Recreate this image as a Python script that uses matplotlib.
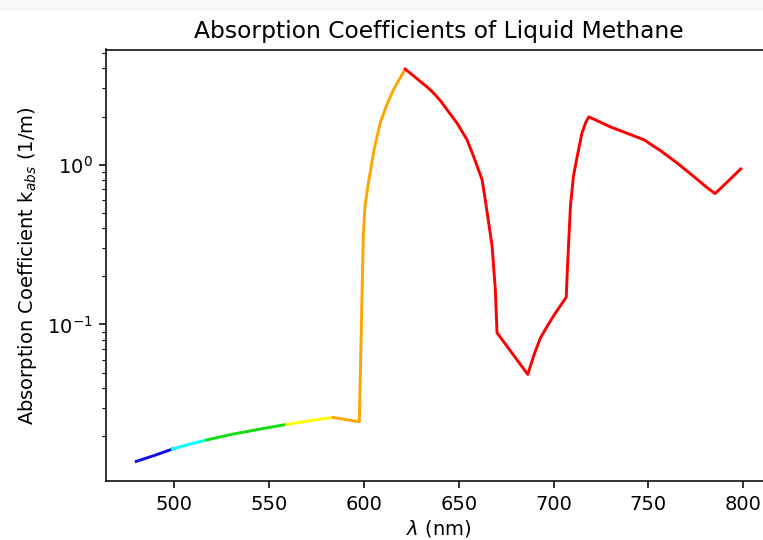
import numpy as np
import matplotlib
matplotlib.use("Agg")
import matplotlib.pyplot as plt
from matplotlib.patches import Rectangle

# wavelength (nm) and absorption coefficient (1/m)
wl = [480, 490, 499, 508, 517, 530, 545, 559.3, 572, 583.7, 597.6,
      599.7, 600.6, 602.4, 605.4, 608.6, 612.1, 615.6, 618.8, 621.8,
      625.5, 629.7, 633.5, 636.7, 640.5, 643.8, 649.1, 654.4, 657.8, 662.3,
      664.0, 667.6, 669.3, 670.2,
      686.4, 690, 693, 697, 701, 706.7, 707.2, 708.1, 708.9, 710.5, 712.5,
      715, 717, 718.6, 730.1, 747.7, 756.5, 765.3, 775.9, 781.1, 785.2, 798.7]
k_abs = [0.0139, 0.0152, 0.0166, 0.0178, 0.0189, 0.0205, 0.0221, 0.0237, 0.0250, 0.0262, 0.0246,
         0.36, 0.55, 0.77, 1.24, 1.82, 2.37, 2.94, 3.43, 3.96,
         3.65, 3.32, 3.05, 2.81, 2.50, 2.21, 1.82, 1.43, 1.13, 0.806,
         0.604, 0.309, 0.166, 0.0887,
         0.0487, 0.066, 0.082, 0.099, 0.118, 0.148, 0.21, 0.35, 0.55, 0.85, 1.13,
         1.58, 1.84, 1.99, 1.72, 1.43, 1.22, 1.02, 0.806, 0.715, 0.659, 0.94]

# colour bands along the spectrum
band_edges = [480, 499, 517, 559.3, 583.7, 621.8, 798.7]
band_colors = ["#1010e6", "cyan", "#11dd11", "yellow", "orange", "red"]

wl = np.array(wl)
k_abs = np.array(k_abs)

dpi = 140
fig = plt.figure(figsize=(763 / dpi, 540 / dpi), dpi=dpi)
fig.patches.append(Rectangle((0, 540 - 10), 763, 10, transform=None,
                             color="#f8f8f8", zorder=-1))
ax = fig.add_axes([106 / 763, 59 / 540, 665 / 763, 431.5 / 540])

for lo, hi, c in zip(band_edges[:-1], band_edges[1:], band_colors):
    m = (wl >= lo) & (wl <= hi)
    ax.plot(wl[m], k_abs[m], color=c)

ax.set_yscale("log")
ax.set_title("Absorption Coefficients of Liquid Methane")
ax.set_xlabel(r"$\lambda$ (nm)", labelpad=2.5)
ax.set_ylabel(r"Absorption Coefficient k$_{abs}$ (1/m)")

fig.savefig("out.png", dpi=dpi)
